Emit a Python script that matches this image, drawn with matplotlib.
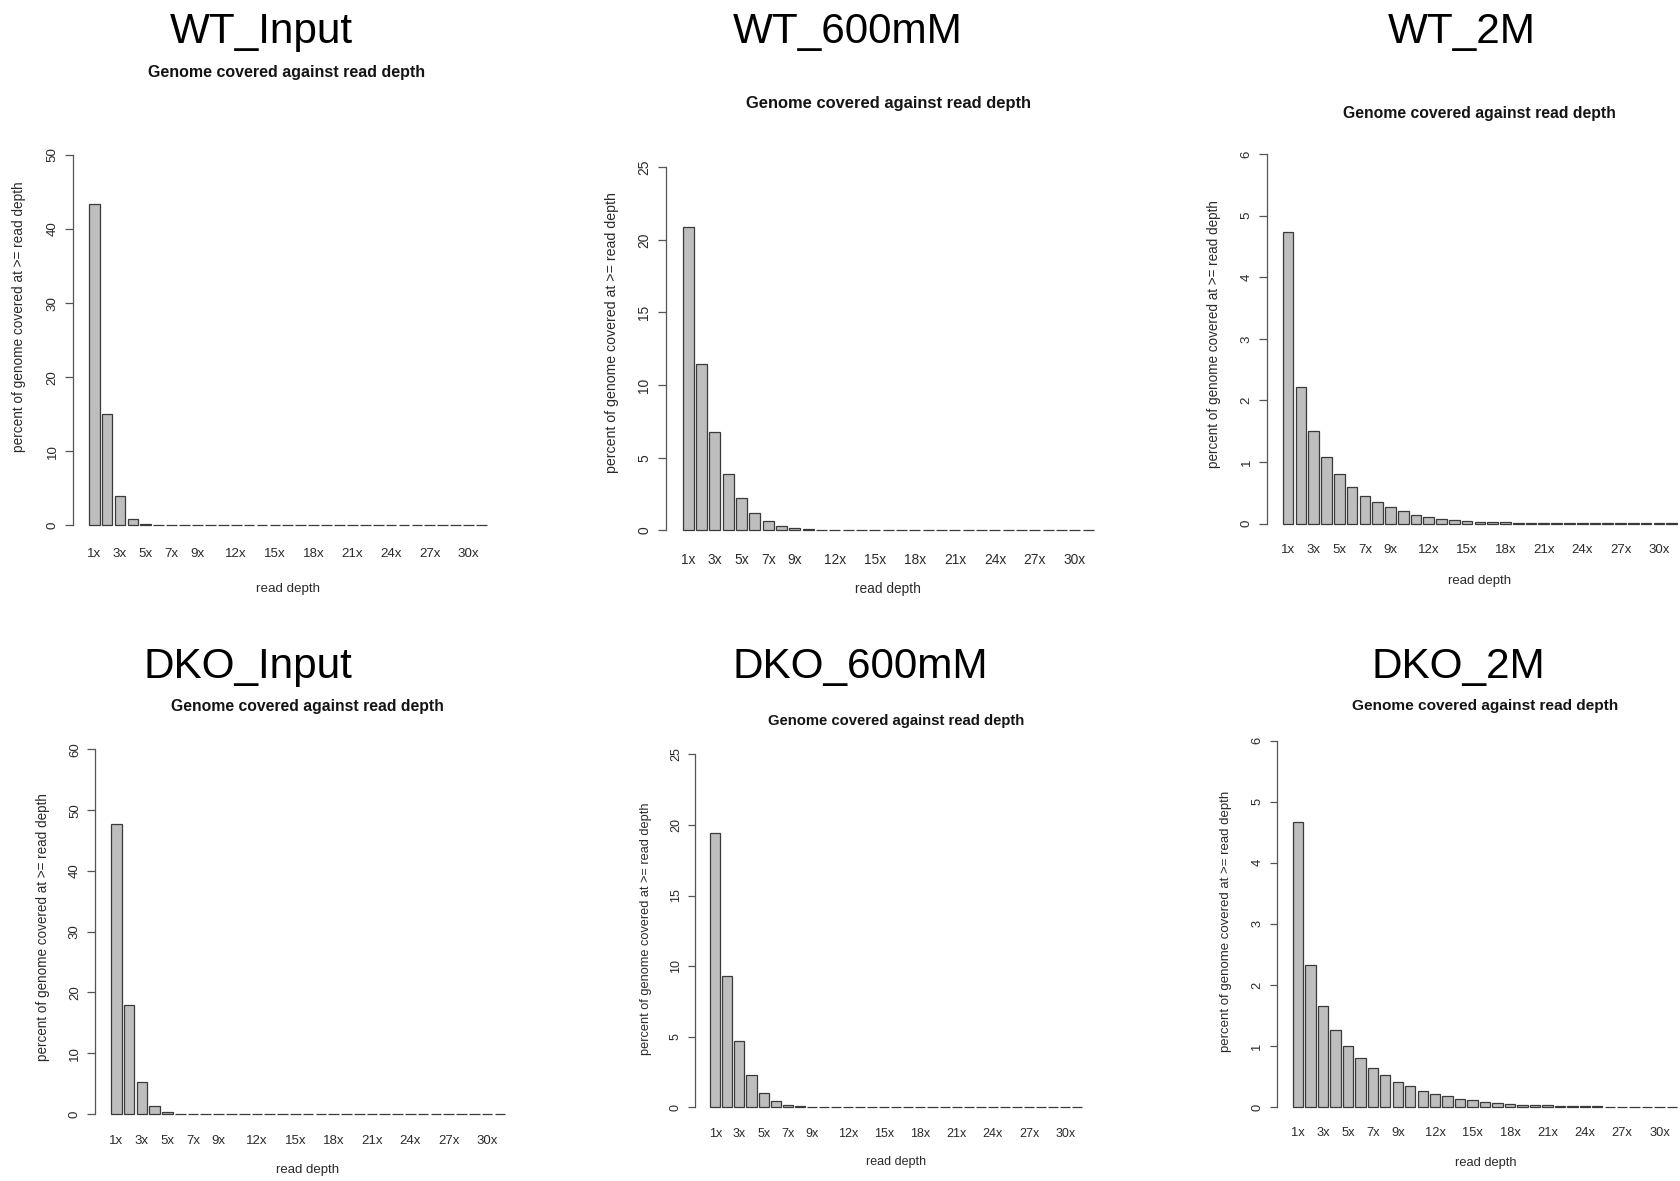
import matplotlib
matplotlib.use("Agg")
import matplotlib.pyplot as plt

W, H = 1680, 1181
plt.rcParams['font.family'] = ['Liberation Sans', 'DejaVu Sans']

# ---------------- data ----------------
depth_labels = ["1x", "2x", "3x", "4x", "5x", "6x", "7x", "8x", "9x", "10x",
                "11x", "12x", "13x", "14x", "15x", "16x", "17x", "18x", "19x", "20x",
                "21x", "22x", "23x", "24x", "25x", "26x", "27x", "28x", "29x", "30x", "31x"]
shown_labels = ["1x", "3x", "5x", "7x", "9x", "12x", "15x", "18x", "21x", "24x", "27x", "30x"]

panel_names = ["WT_Input", "WT_600mM", "WT_2M", "DKO_Input", "DKO_600mM", "DKO_2M"]

wt_input = [43.4, 15.0, 4.0, 0.85, 0.2, 0.05, 0.02, 0.01, 0.005, 0.003, 0.002, 0.001, 0.001,
            0, 0, 0, 0, 0, 0, 0, 0, 0, 0, 0, 0, 0, 0, 0, 0, 0, 0]
wt_600mm = [20.9, 11.43, 6.74, 3.9, 2.21, 1.21, 0.63, 0.32, 0.16, 0.08, 0.04, 0.02, 0.012,
            0.008, 0.005, 0.003, 0.002, 0.001, 0.001, 0, 0, 0, 0, 0, 0, 0, 0, 0, 0, 0, 0]
wt_2m = [4.73, 2.22, 1.50, 1.08, 0.80, 0.60, 0.45, 0.35, 0.26, 0.20, 0.14, 0.10, 0.075,
         0.056, 0.044, 0.031, 0.025, 0.019, 0.015, 0.012, 0.010, 0.008, 0.006, 0.005,
         0.004, 0.003, 0.003, 0.002, 0.002, 0.002, 0.001]
dko_input = [47.7, 17.9, 5.19, 1.28, 0.3, 0.08, 0.02, 0.006, 0.002, 0.001,
             0, 0, 0, 0, 0, 0, 0, 0, 0, 0, 0, 0, 0, 0, 0, 0, 0, 0, 0, 0, 0]
dko_600mm = [19.45, 9.33, 4.68, 2.26, 1.03, 0.42, 0.18, 0.08, 0.03, 0.012, 0.005, 0.002, 0.001,
             0, 0, 0, 0, 0, 0, 0, 0, 0, 0, 0, 0, 0, 0, 0, 0, 0, 0]
dko_2m = [4.66, 2.32, 1.65, 1.27, 1.00, 0.80, 0.64, 0.52, 0.42, 0.34, 0.27, 0.22, 0.18,
          0.14, 0.11, 0.085, 0.067, 0.055, 0.043, 0.036, 0.030, 0.024, 0.020, 0.016,
          0.013, 0.011, 0.009, 0.007, 0.006, 0.005, 0.004]

series = [wt_input, wt_600mm, wt_2m, dko_input, dko_600mm, dko_2m]
y_top = [50, 25, 6, 60, 25, 6]
y_step = [10, 5, 1, 10, 5, 1]

subtitle = "Genome covered against read depth"
x_label = "read depth"
y_label = "percent of genome covered at >= read depth"

# ---------------- layout (pixels, origin top-left) ----------------
layout = [
    dict(bar_l=88.8, bar_r=486.8, y0=525.4, yT=155.0, title=(261, 43.2), sub=(287, 72.7),
         xlab=(288, 588.6), ylab=(19.1, 317), ticky=553.0),
    dict(bar_l=682.7, bar_r=1093.8, y0=530.4, yT=167.2, title=(848, 43.2), sub=(888, 103.3),
         xlab=(888, 589.0), ylab=(612, 333), ticky=557.6),
    dict(bar_l=1282.8, bar_r=1677.0, y0=523.5, yT=154.2, title=(1462, 43.2), sub=(1479, 113.7),
         xlab=(1480, 581.0), ylab=(1214, 334.5), ticky=549.2),
    dict(bar_l=111.0, bar_r=505.2, y0=1114.0, yT=749.4, title=(248, 677.8), sub=(307.5, 706.5),
         xlab=(308, 1170.0), ylab=(43.2, 926.6), ticky=1139.7),
    dict(bar_l=710.3, bar_r=1082.3, y0=1107.2, yT=754.4, title=(860, 677.8), sub=(896, 720.7),
         xlab=(896, 1161.5), ylab=(646, 929), ticky=1132.0),
    dict(bar_l=1292.8, bar_r=1677.3, y0=1107.2, yT=740.6, title=(1458.5, 677.8), sub=(1485, 706.1),
         xlab=(1486, 1162.7), ylab=(1226, 921.6), ticky=1132.0),
]

fig = plt.figure(figsize=(W / 100, H / 100), dpi=100)
fig.patch.set_facecolor("white")

n = len(depth_labels)
centers = [0.7 + 1.2 * i for i in range(n)]
lo, hi = 0.2, 0.2 + 1.2 * (n - 1) + 1.0
ext = 0.04 * (hi - lo)

axis_col = "#555555"
edge_col = "#3a3a3a"
text_col = "#2a2a2a"

for k in range(6):
    L = layout[k]
    vals = series[k]
    T = y_top[k]
    span_x = L["bar_r"] - L["bar_l"]
    s = span_x / 398.0  # per-panel scale
    left_px = L["bar_l"] - 0.04 * span_x
    width_px = span_x * 1.08
    span_y = L["y0"] - L["yT"]
    bottom_px = L["y0"] + 0.04 * span_y
    height_px = span_y * 1.08
    ax = fig.add_axes([left_px / W, 1 - bottom_px / H, width_px / W, height_px / H])
    ax.set_facecolor("none")
    ax.bar(centers, vals, width=1.0, color="#bebebe", edgecolor=edge_col, linewidth=0.9)
    ax.set_xlim(lo - ext, hi + ext)
    ax.set_ylim(-0.04 * T, 1.04 * T)

    for sp in ["top", "right", "bottom"]:
        ax.spines[sp].set_visible(False)
    ax.spines["left"].set_bounds(0, T)
    ax.spines["left"].set_color(axis_col)
    ax.spines["left"].set_linewidth(0.9)

    fs = 9.6 * s
    em = fs * 100 / 72
    yt = list(range(0, T + 1, y_step[k]))
    ax.set_yticks(yt)
    ax.set_yticklabels([str(v) for v in yt], rotation=90, va="center", ha="right",
                       fontsize=fs, color=text_col)
    tick_px = 7.7 * s
    ypad_px = 22.0 * s - tick_px - 0.568 * em
    ax.tick_params(axis="y", length=tick_px * 0.72, width=0.9, color=axis_col,
                   pad=ypad_px * 0.72)

    pos = [centers[depth_labels.index(lbl)] for lbl in shown_labels]
    ax.set_xticks(pos)
    pad_px = L["ticky"] - 0.36 * em - bottom_px
    ax.set_xticklabels(shown_labels, fontsize=fs, color=text_col)
    ax.tick_params(axis="x", length=0, pad=pad_px * 0.72)

    tx, ty = L["title"]
    fig.text(tx / W, 1 - ty / H, panel_names[k], fontsize=30.4, ha="center", va="baseline",
             color="black")
    sx, sy = L["sub"]
    fig.text(sx / W, 1 - sy / H, subtitle, fontsize=11.5 * s, fontweight="bold",
             ha="center", va="center", color="#141414")
    xx, xy = L["xlab"]
    fig.text(xx / W, 1 - xy / H, x_label, fontsize=fs, ha="center", va="center",
             color=text_col)
    lx, ly = L["ylab"]
    fig.text(lx / W, 1 - ly / H, y_label, fontsize=9.85 * s, ha="center", va="center",
             rotation=90, color=text_col)

fig.savefig("out.png", dpi=100, facecolor="white")
